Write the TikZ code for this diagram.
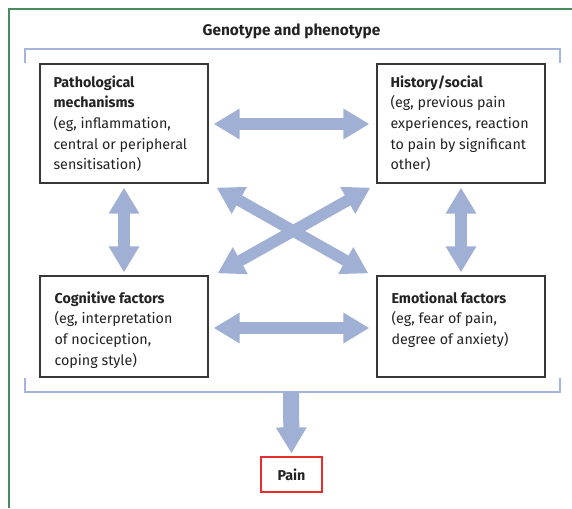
\documentclass[tikz,border=0pt]{standalone}
\usepackage{fontspec}
\setmainfont{Fira Sans}
\usetikzlibrary{arrows.meta}
\definecolor{frameg}{RGB}{70,140,95}
\definecolor{brk}{RGB}{165,180,218}
\definecolor{arr}{RGB}{160,176,213}
\definecolor{boxc}{RGB}{55,55,55}
\definecolor{painred}{RGB}{232,45,45}
\definecolor{txtc}{RGB}{35,35,35}
\newcommand{\boxlines}[1]{\begin{tabular}[t]{@{}l@{}}#1\end{tabular}}
\tikzset{
  box/.style={draw=boxc, line width=1.3pt, minimum width=168pt, minimum height=#1, inner sep=0pt},
  boxtext/.style={anchor=base west, inner sep=0pt, text=txtc, font=\fontsize{14.3}{20.6}\selectfont},
  bigarrow/.style={line width=11.5pt, draw=arr, {Triangle[width=29pt,length=26pt]}-{Triangle[width=29pt,length=26pt]}},
  downarrow/.style={line width=16pt, draw=arr, -{Triangle[width=29pt,length=26pt]}},
  bracketline/.style={draw=brk, line width=1.3pt},
}
\begin{document}
\begin{tikzpicture}[x=1pt,y=-1pt]
\useasboundingbox (0,0) rectangle (572,508);
\fill[white] (0,0) rectangle (572,508);
% green frame
\draw[frameg, line width=1.2pt] (9,508) -- (9,9) -- (572,9);
% title
\node[inner sep=0pt, text=txtc, font=\fontsize{15.4}{18}\selectfont\bfseries, anchor=base] (title) at (291.5,36) {Genotype and phenotype};
% brackets
\draw[bracketline] (25,63) -- (25,49) -- (560,49) -- (560,63);
\draw[bracketline] (25,378) -- (25,392) -- (560,392) -- (560,378);
\coordinate (bb) at (291,392);
% boxes
\node[box=119pt] (path) at (124,123.5) {};
\node[box=119pt] (hist) at (461,123.5) {};
\node[box=101pt] (cog) at (124,326.5) {};
\node[box=101pt] (emo) at (461,326.5) {};
% box texts
\node[boxtext] (pathtxt) at ([shift={(14,24)}]path.north west) {\boxlines{\textbf{Pathological}\\\textbf{mechanisms}\\(eg, inflammation,\\central or peripheral\\sensitisation)}};
\node[boxtext] (histtxt) at ([shift={(14,24)}]hist.north west) {\boxlines{\textbf{History/social}\\(eg, previous pain\\experiences, reaction\\to pain by significant\\other)}};
\node[boxtext] (cogtxt) at ([shift={(15,28)}]cog.north west) {\boxlines{\textbf{Cognitive factors}\\(eg, interpretation\\of nociception,\\coping style)}};
\node[boxtext] (emotxt) at ([shift={(15,28)}]emo.north west) {\boxlines{\textbf{Emotional factors}\\(eg, fear of pain,\\degree of anxiety)}};
% pain
\node[draw=painred, line width=1.2pt, minimum width=61pt, minimum height=35pt, inner sep=0pt, text=txtc, font=\fontsize{14.3}{17}\selectfont\bfseries] (pain) at (291.5,474.5) {Pain};
% arrows
\draw[bigarrow] ([shift={(5,0.5)}]path.east) -- ([shift={(-7,0.5)}]hist.west);
\draw[bigarrow] ([shift={(5,1.5)}]cog.east) -- ([shift={(-7,1.5)}]emo.west);
\draw[bigarrow] ([shift={(0,4)}]path.south) -- ([shift={(0,-3)}]cog.north);
\draw[bigarrow] ([shift={(0,4)}]hist.south) -- ([shift={(0,-3)}]emo.north);
\draw[bigarrow] ([shift={(8,4)}]path.south east) -- ([shift={(-8,-2)}]emo.north west);
\draw[bigarrow] ([shift={(-6,4)}]hist.south west) -- ([shift={(9,-2)}]cog.north east);
\draw[downarrow] (bb) -- ([shift={(0,-3)}]pain.north);
\end{tikzpicture}
\end{document}
